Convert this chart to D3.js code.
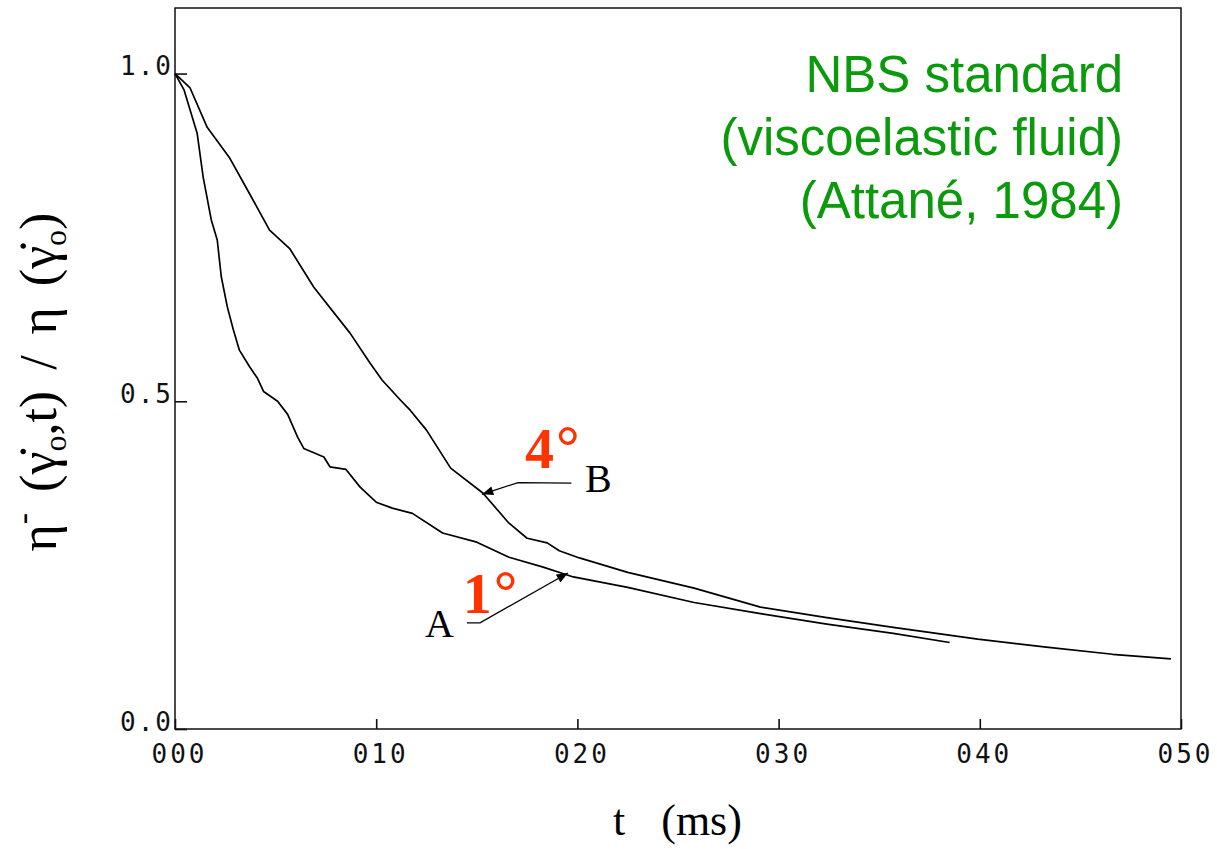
<!DOCTYPE html>
<html>
<head>
<meta charset="utf-8">
<script src="https://cdn.jsdelivr.net/npm/d3@7"></script>
<style>
  body { margin: 0; background: #fff; }
  svg { display: block; }
</style>
</head>
<body>
<svg width="1217" height="849"></svg>
<script>
// curve A (1 deg cone) - t in ms, normalised viscosity
var tA = [0, 0.45, 1.1, 1.4, 1.8, 2.1, 2.3, 2.6, 2.9, 3.2, 3.7, 4.1, 4.4, 5.1, 5.6, 6.1, 6.4, 7.4, 7.7, 8.5,
          9.2, 10.0, 10.8, 11.8, 13.3, 15.0, 16.6, 18.3, 19.8, 22.5, 25.8, 29.1, 32.4, 35.7, 38.5];
var vA = [1.0, 0.975, 0.909, 0.842, 0.777, 0.746, 0.69, 0.644, 0.609, 0.578, 0.553, 0.535, 0.515, 0.50, 0.48, 0.445, 0.428, 0.415, 0.40, 0.396,
          0.369, 0.346, 0.337, 0.329, 0.299, 0.285, 0.262, 0.247, 0.232, 0.216, 0.193, 0.176, 0.160, 0.146, 0.132];

// curve B (4 deg cone)
var tB = [0, 0.75, 1.6, 2.7, 3.7, 4.7, 5.7, 6.9, 8.7, 9.7, 10.3, 11.2, 11.7, 12.5, 13.7, 15.3, 16.6, 17.5, 18.5, 19.1,
          20.1, 22.5, 25.8, 29.1, 32.4, 35.7, 39.9, 43.3, 46.6, 49.5];
var vB = [1.0, 0.978, 0.918, 0.872, 0.817, 0.761, 0.733, 0.674, 0.604, 0.558, 0.532, 0.502, 0.486, 0.456, 0.398, 0.36, 0.314, 0.291, 0.284, 0.272,
          0.261, 0.239, 0.215, 0.186, 0.170, 0.155, 0.137, 0.125, 0.114, 0.107];

var xTicks = [0, 10, 20, 30, 40, 50];
var xTickLabels = ["000", "010", "020", "030", "040", "050"];
var yTicks = [0, 0.5, 1.0];
var yTickLabels = ["0.0", "0.5", "1.0"];

var noteLines = ["NBS standard", "(viscoelastic fluid)", "(Attané, 1984)"];

// annotation anchors (data units)
var arrowB = [[19.7, 0.375], [17.05, 0.376], [15.26, 0.358]];
var arrowA = [[14.51, 0.162], [15.16, 0.162], [19.53, 0.238]];
var letterB = [20.38, 0.362];
var letterA = [12.43, 0.140];
var angle4 = [17.4, 0.398];
var angle1 = [14.3, 0.177];

var svg = d3.select("svg");
var plotLeft = 175, plotRight = 1181, plotTop = 8, plotBottom = 729;

var x = d3.scaleLinear().domain([0, 50]).range([plotLeft, plotRight]);
var y = d3.scaleLinear().domain([0, 1.1]).range([plotBottom, plotTop]);

svg.append("rect").attr("width", 1217).attr("height", 849).style("fill", "#fff");

// frame
svg.append("rect")
  .attr("x", plotLeft).attr("y", plotTop)
  .attr("width", plotRight - plotLeft).attr("height", plotBottom - plotTop)
  .style("fill", "none").style("stroke", "#111").style("stroke-width", 1.5);

var tickFont = "'DejaVu Sans Mono', monospace";

var yAxis = svg.append("g")
  .attr("transform", "translate(" + plotLeft + ",0)")
  .call(d3.axisLeft(y).tickValues(yTicks)
    .tickFormat(function(d, i) { return yTickLabels[i]; })
    .tickSizeInner(-12).tickSizeOuter(0).tickPadding(2));
yAxis.select(".domain").remove();
yAxis.selectAll("line").style("stroke", "#111").style("stroke-width", 1.6);
yAxis.selectAll("text")
  .attr("dy", "0.04em")
  .style("font-family", tickFont).style("font-size", "26px")
  .style("letter-spacing", "2px").style("fill", "#111");

var xAxis = svg.append("g")
  .attr("transform", "translate(0," + plotBottom + ")")
  .call(d3.axisBottom(x).tickValues(xTicks)
    .tickFormat(function(d, i) { return xTickLabels[i]; })
    .tickSizeInner(-10).tickSizeOuter(0).tickPadding(16));
xAxis.select(".domain").remove();
xAxis.selectAll("line").style("stroke", "#111").style("stroke-width", 1.6);
xAxis.selectAll("text")
  .attr("dx", "4")
  .style("font-family", tickFont).style("font-size", "26px")
  .style("letter-spacing", "3px").style("fill", "#111");

// curves
var line = d3.line()
  .x(function(d) { return x(d[0]); })
  .y(function(d) { return y(d[1]); });

var curveA = tA.map(function(t, i) { return [t, vA[i]]; });
var curveB = tB.map(function(t, i) { return [t, vB[i]]; });

svg.selectAll("path.curve")
  .data([curveA, curveB])
  .enter().append("path")
  .attr("class", "curve")
  .attr("d", line)
  .style("fill", "none").style("stroke", "#000").style("stroke-width", 1.7)
  .style("stroke-linejoin", "round");

// arrows
svg.append("defs").append("marker")
  .attr("id", "head")
  .attr("viewBox", "0 0 10 8")
  .attr("refX", 10).attr("refY", 4)
  .attr("markerWidth", 12).attr("markerHeight", 9)
  .attr("markerUnits", "userSpaceOnUse")
  .attr("orient", "auto")
  .append("path").attr("d", "M0,0L10,4L0,8Z").style("fill", "#000");

svg.selectAll("path.arrow")
  .data([arrowB, arrowA])
  .enter().append("path")
  .attr("class", "arrow")
  .attr("d", line)
  .attr("marker-end", "url(#head)")
  .style("fill", "none").style("stroke", "#000").style("stroke-width", 1.3);

var serif = "'Liberation Serif', 'Times New Roman', serif";

svg.selectAll("text.letter")
  .data([[letterB, "B"], [letterA, "A"]])
  .enter().append("text")
  .attr("class", "letter")
  .attr("x", function(d) { return x(d[0][0]); })
  .attr("y", function(d) { return y(d[0][1]); })
  .text(function(d) { return d[1]; })
  .style("font-family", serif).style("font-size", "40px").style("fill", "#000");

var angles = svg.selectAll("text.angle")
  .data([[angle4, "4"], [angle1, "1"]])
  .enter().append("text")
  .attr("class", "angle")
  .attr("x", function(d) { return x(d[0][0]); })
  .attr("y", function(d) { return y(d[0][1]); })
  .style("font-family", serif).style("font-size", "58px")
  .style("font-weight", "bold").style("fill", "#ff3300");
angles.append("tspan").text(function(d) { return d[1]; });
angles.append("tspan").text("°")
  .attr("dx", 1).attr("dy", 4)
  .style("font-family", "'Liberation Sans', Arial, sans-serif")
  .style("font-weight", "normal").style("font-size", "64px");

// green note, top right
svg.append("text")
  .attr("x", 1123).attr("y", 92)
  .style("font-family", "'Liberation Sans', Arial, sans-serif")
  .style("font-size", "51px").style("fill", "#0b9a0b")
  .attr("text-anchor", "end")
  .selectAll("tspan").data(noteLines).enter().append("tspan")
  .attr("x", 1123)
  .attr("dy", function(d, i) { return i === 0 ? 0 : 63; })
  .text(function(d) { return d; });

// x axis title
var xt = svg.append("text")
  .attr("x", 613).attr("y", 835)
  .style("font-family", serif).style("font-size", "44px").style("fill", "#000");
xt.append("tspan").text("t");
xt.append("tspan").attr("dx", 36).text("(ms)");

// y axis title
var yt = svg.append("text")
  .attr("transform", "translate(56,382) rotate(-90)")
  .attr("text-anchor", "middle")
  .style("font-family", serif).style("font-size", "52px")
  .style("word-spacing", "8px").style("fill", "#000");
yt.append("tspan").text("η");
yt.append("tspan").attr("dy", -22).style("font-size", "34px").text("-");
yt.append("tspan").attr("dy", 22).text(" (γ\u0307");
yt.append("tspan").attr("dy", 10).style("font-size", "32px").text("o");
yt.append("tspan").attr("dy", -10).text(",t) / η (γ\u0307");
yt.append("tspan").attr("dy", 10).style("font-size", "32px").text("o");
yt.append("tspan").attr("dy", -10).text(")");
</script>
</body>
</html>
